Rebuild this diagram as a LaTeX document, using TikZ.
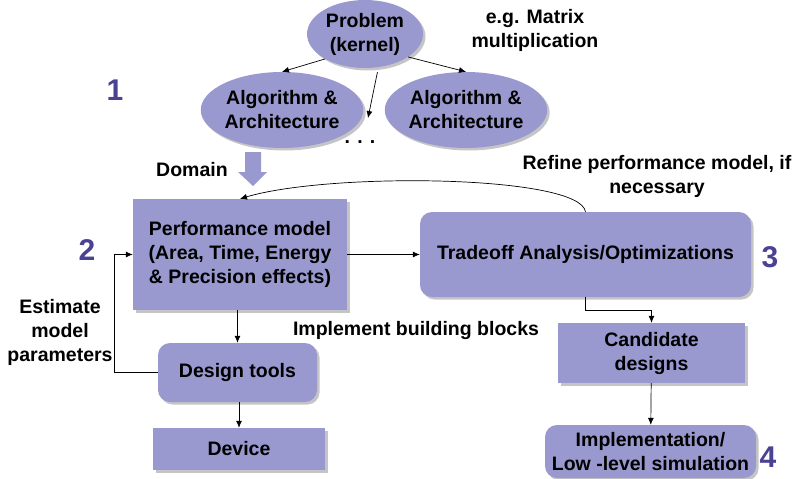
\documentclass[tikz,border=0pt]{standalone}
\usepackage{fontspec}
\setmainfont{Liberation Sans}
\usetikzlibrary{positioning,shapes.geometric,shadows,arrows.meta}

\definecolor{boxfill}{RGB}{153,153,208}
\definecolor{stepnum}{RGB}{74,66,146}

\tikzset{
  lbl/.style={font=\fontsize{19.5}{24}\selectfont\bfseries, align=center},
  block/.style={lbl, fill=boxfill, inner sep=0pt,
    drop shadow={shadow xshift=2.5pt, shadow yshift=-2.5pt, fill=black!45}},
  rblock/.style={block, rounded corners=12pt},
  blob/.style={block, ellipse},
  num/.style={font=\fontsize{30}{30}\selectfont\bfseries, text=stepnum},
  arr/.style={-{Latex[length=7pt,width=6pt]}, line width=0.7pt},
}

\begin{document}
\begin{tikzpicture}[x=1pt,y=-1pt]
   \useasboundingbox (0,0) rectangle (806,479);

   \node[blob, minimum width=116pt, minimum height=68pt] (prob) at (365,34) {Problem\\(kernel)};
   \node[blob, minimum width=146pt, minimum height=76pt] (alg_1) at (282,110) {Algorithm \&\\Architecture};
   \node[blob, minimum width=146pt, minimum height=76pt] (alg_2) at (466,110) {Algorithm \&\\Architecture};
   \node[lbl] (dots) at (360,142) {. . .};
   \coordinate (dots_in) at (368,118);
   \node[lbl] (ex) at (535,30) {e.g. Matrix\\multiplication};
   \node[num] (n_1) at (115,90) {1};

   \node[block, minimum width=214pt, minimum height=111pt] (perf) at (240,254.5)
        {Performance model\\(Area, Time, Energy\\\& Precision effects)};
   \node[rblock, minimum width=331pt, minimum height=85pt] (trade) at (585.5,254.5)
        {Tradeoff Analysis/Optimizations};
   \node[num] (n_2) at (87,250) {2};
   \node[num] (n_3) at (770,257) {3};

   \node[rblock, minimum width=159pt, minimum height=59pt] (tools) at (237.5,372.5) {Design tools};
   \node[block, minimum width=172pt, minimum height=42pt] (dev) at (239,449) {Device};
   \node[block, minimum width=187pt, minimum height=60pt] (cand) at (651.5,353) {Candidate\\designs};
   \node[rblock, minimum width=211pt, minimum height=53pt] (impl) at (650.5,451.5)
        {Implementation/\\Low -level simulation};
   \node[num] (n_4) at (768,457) {4};

   \node[lbl] (domain) at (192,170) {Domain};
   \node[lbl] (refine) at (657,176) {Refine performance model, if\\necessary};
   \node[lbl] (estim) at (60,332) {Estimate\\model\\parameters};
   \node[lbl] (impl_lbl) at (416,330) {Implement building blocks};

   % fat arrow into the model
   \fill[boxfill] (245,152) -- (261,152) -- (261,172) -- (267,172) -- (253,186)
        -- (238,172) -- (245,172) -- cycle;

   \path[arr]
    (prob.212) edge (alg_1.north)
    (prob.332) edge (alg_2.north)
    (prob.292) edge[shorten <=5pt] (dots_in)
    (perf) edge (trade)
    (perf.south -| tools.north) edge (tools.north)
    (tools.south -| dev.north) edge (dev.north)
    (cand) edge (impl);

   \draw[arr] (trade.north) .. controls (580,175) and (330,172) .. (perf.north);
   \draw[arr] (tools.west) -- ++(-43,0) |- (perf.west);
   \draw[arr] (trade.south) -- ++(0,13) -| (cand.north);
\end{tikzpicture}
\end{document}
